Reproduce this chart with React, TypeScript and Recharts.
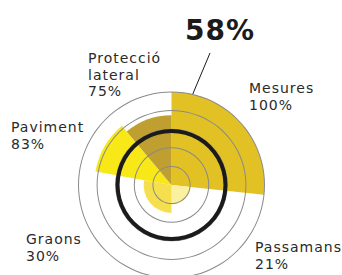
import React from 'react';
import { PieChart, Pie, Cell } from 'recharts';

const categories = ['Mesures', 'Passamans', 'Graons', 'Paviment', 'Protecció lateral'];
const values = [100, 21, 30, 83, 75];
// angular width of each sector, in degrees
const spans = [96, 84, 100, 40, 40];
const colors = ['#e1c124', '#faf0a0', '#f6df4e', '#f8e817', '#bf9f30'];
const gridLevels = [20, 40, 60, 80, 100];
const average = 58;

const labelLines = [
  ['Mesures', '100%'],
  ['Passamans', '21%'],
  ['Graons', '30%'],
  ['Paviment', '83%'],
  ['Protecció', 'lateral', '75%'],
];
const labelPos = [
  { x: 249, y: 93 },
  { x: 255, y: 252 },
  { x: 26, y: 244 },
  { x: 11, y: 132 },
  { x: 88, y: 63 },
];

const W = 342;
const H = 275;
const CX = 171.5;
const CY = 185;
const R = 93;
const rScale = (v: number) => (v / 100) * R;

export default function App() {
  let acc = 90;
  const sectors = values.map((v, i) => {
    const start = acc;
    const end = acc - spans[i];
    acc = end;
    return { name: categories[i], value: v, start, end, color: colors[i] };
  });

  const avgR = rScale(average);
  const tipAngle = (84 * Math.PI) / 180;
  const tip = { x: CX + avgR * Math.cos(tipAngle), y: CY - avgR * Math.sin(tipAngle) };

  return (
    <div style={{ position: 'absolute', left: 0, top: 0, width: W, height: H, background: '#fff' }}>
      <PieChart width={W} height={H} margin={{ top: 0, right: 0, bottom: 0, left: 0 }}>
        {sectors.map((s) => (
          <Pie
            key={s.name}
            data={[{ name: s.name, value: s.value }]}
            dataKey="value"
            cx={CX}
            cy={CY}
            startAngle={s.start}
            endAngle={s.end}
            innerRadius={0}
            outerRadius={rScale(s.value)}
            stroke="none"
            isAnimationActive={false}
          >
            <Cell fill={s.color} />
          </Pie>
        ))}
        {gridLevels.map((g) => (
          <Pie
            key={'grid' + g}
            data={[{ value: 1 }]}
            dataKey="value"
            cx={CX}
            cy={CY}
            startAngle={90}
            endAngle={-270}
            innerRadius={rScale(g) - 0.5}
            outerRadius={rScale(g) + 0.5}
            stroke="none"
            fill="#8a8a8a"
            isAnimationActive={false}
          />
        ))}
        <Pie
          data={[{ value: average }]}
          dataKey="value"
          cx={CX}
          cy={CY}
          startAngle={90}
          endAngle={-270}
          innerRadius={avgR - 2}
          outerRadius={avgR + 2}
          stroke="none"
          fill="#1c1a1a"
          isAnimationActive={false}
        />
        <line x1={210} y1={53} x2={tip.x} y2={tip.y} stroke="#1c1a1a" strokeWidth={1} />
        <text
          x={185}
          y={40}
          fontFamily="DejaVu Sans"
          fontWeight="bold"
          fontSize={28}
          letterSpacing={1}
          fill="#1c1a1a"
        >
          {average}%
        </text>
        {labelLines.map((lines, i) => (
          <text
            key={categories[i]}
            x={labelPos[i].x}
            y={labelPos[i].y}
            fontFamily="DejaVu Sans"
            fontSize={14}
            letterSpacing={1}
            fill="#2a2a2a"
          >
            {lines.map((l, j) => (
              <tspan key={j} x={labelPos[i].x} dy={j === 0 ? 0 : 16.5}>
                {l}
              </tspan>
            ))}
          </text>
        ))}
      </PieChart>
    </div>
  );
}
